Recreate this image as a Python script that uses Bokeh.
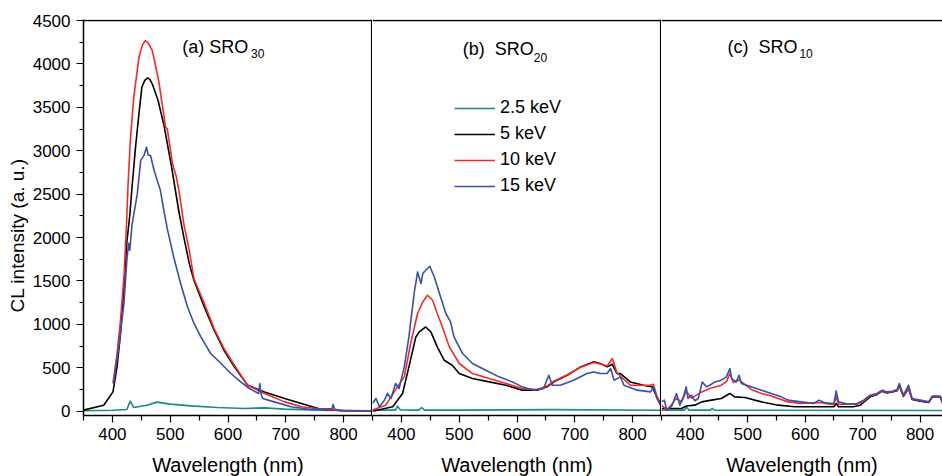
from bokeh.plotting import figure
from bokeh.layouts import row
from bokeh.models import Span, Label, Legend, LegendItem, FixedTicker, Range1d, Title
from bokeh.embed import file_html
from bokeh.resources import INLINE

FONT = "Liberation Sans"

series_names = ["2.5 keV", "5 keV", "10 keV", "15 keV"]
colors = ["#1a8c84", "#000000", "#f42a2a", "#3a50a8"]

x_ticks = [400, 500, 600, 700, 800]
x_minor = [350, 450, 550, 650, 750, 850]
y_ticks = [0, 500, 1000, 1500, 2000, 2500, 3000, 3500, 4000, 4500]
y_minor = [250, 750, 1250, 1750, 2250, 2750, 3250, 3750, 4250]

# ---------------- Panel (a) SRO30 ----------------
a_teal_x = [350, 400, 425, 431, 437, 460, 477, 500, 536, 582, 628, 663, 698, 756, 849]
a_teal_y = [4, 10, 20, 115, 42, 69, 104, 81, 61, 42, 31, 38, 23, 12, 4]

a_black_x = [350, 385, 401, 408, 414, 420, 425, 430, 434, 440, 446, 451, 456, 461, 465, 470, 479, 489, 502,
             515, 524, 533, 541, 559, 576, 593, 611, 634, 663, 698, 727, 762, 802, 850]
a_black_y = [12, 69, 222, 510, 894, 1431, 1950, 2250, 2582, 3042, 3430, 3733, 3810, 3840, 3820, 3752, 3580,
             3300, 2830, 2300, 1990, 1700, 1508, 1200, 932, 702, 510, 299, 222, 146, 89, 20, 4, 0]

a_red_x = [401, 408, 414, 420, 424, 427, 431, 437, 446, 452, 457, 462, 469, 480, 487, 492, 495, 504, 510,
           515, 524, 533, 541, 559, 576, 593, 611, 634, 657, 698, 727, 767, 802, 850]
a_red_y = [319, 664, 1047, 1546, 2083, 2600, 3119, 3618, 4078, 4220, 4270, 4240, 4155, 3810, 3500, 3272,
           3250, 2851, 2716, 2544, 2140, 1853, 1527, 1240, 952, 722, 529, 299, 222, 107, 50, 20, 4, 0]

a_blue_x = [402, 411, 420, 425, 428, 430, 434, 443, 449, 455, 459, 462, 466, 472, 483, 489, 495, 506, 518,
            530, 541, 553, 570, 588, 605, 622, 637, 653, 655, 657, 660, 680, 709, 744, 780, 782, 784, 796, 850]
a_blue_y = [319, 740, 1240, 1738, 1934, 1853, 2150, 2500, 2889, 2950, 3042, 2950, 2946, 2774, 2544, 2314,
            2100, 1776, 1470, 1200, 1013, 855, 664, 549, 434, 337, 261, 204, 319, 200, 146, 107, 50, 20, 30,
            77, 25, 4, 0]

# ---------------- Panel (b) SRO20 ----------------
b_teal_x = [350, 390, 393, 398, 430, 435, 440, 500, 660, 850]
b_teal_y = [12, 12, 58, 15, 12, 42, 12, 12, 18, 10]

b_black_x = [350, 385, 402, 413, 425, 431, 442, 451, 462, 474, 488, 500, 523, 552, 581, 609, 635, 652, 664,
             687, 710, 733, 744, 756, 765, 773, 779, 796, 819, 834, 842, 851]
b_black_y = [0, 50, 204, 510, 855, 913, 970, 913, 740, 587, 529, 433, 376, 337, 299, 242, 242, 280, 337,
             414, 510, 568, 549, 510, 540, 433, 433, 337, 299, 280, 165, 50]

b_red_x = [350, 373, 393, 405, 416, 428, 437, 445, 454, 462, 471, 483, 500, 523, 552, 581, 609, 635, 652,
           664, 687, 710, 733, 744, 756, 765, 773, 796, 831, 836, 842, 850]
b_red_y = [12, 69, 280, 395, 779, 1125, 1258, 1335, 1278, 1125, 970, 740, 549, 433, 376, 319, 261, 250,
           290, 345, 420, 505, 560, 545, 520, 607, 440, 299, 299, 310, 175, 50]

b_blue_x = [350, 356, 362, 370, 376, 382, 390, 396, 405, 413, 422, 428, 434, 437, 445, 449, 457, 465, 477,
            485, 491, 506, 523, 546, 569, 592, 609, 629, 646, 655, 661, 675, 698, 721, 733, 744, 756, 762,
            768, 779, 785, 808, 831, 836, 842, 850]
b_blue_y = [88, 146, 50, 120, 204, 146, 319, 261, 510, 855, 1355, 1604, 1470, 1585, 1643, 1669, 1546, 1373,
            1125, 1028, 855, 664, 549, 472, 395, 337, 280, 242, 261, 414, 299, 299, 357, 433, 452, 433, 433,
            491, 357, 395, 299, 242, 222, 280, 146, 50]

# ---------------- Panel (c) SRO10 ----------------
c_teal_x = [350, 390, 393, 398, 435, 438, 442, 839]
c_teal_y = [12, 12, 50, 12, 12, 31, 12, 8]

c_black_x = [350, 385, 393, 408, 420, 437, 454, 469, 477, 495, 524, 553, 582, 602, 650, 654, 658, 684, 696,
             713, 725, 734, 742, 752, 760, 764, 771, 780, 786, 800, 815, 821, 835, 839]
c_black_y = [31, 31, 60, 69, 107, 127, 146, 204, 165, 157, 107, 69, 50, 50, 50, 88, 50, 50, 69, 165, 190,
             230, 210, 220, 235, 290, 170, 260, 135, 115, 100, 160, 160, 95]

c_red_x = [350, 360, 376, 385, 393, 402, 420, 434, 454, 463, 469, 475, 485, 506, 524, 541, 570, 593, 624,
           650, 654, 658, 690, 702, 713, 725, 734, 742, 752, 760, 764, 771, 780, 786, 800, 815, 821, 835, 839]
c_red_y = [70, 10, 150, 107, 230, 150, 222, 260, 299, 340, 433, 330, 360, 250, 204, 175, 107, 90, 100, 75,
           170, 80, 80, 115, 175, 195, 235, 215, 225, 240, 300, 175, 270, 140, 120, 105, 165, 165, 100]

c_blue_x = [350, 355, 359, 368, 376, 382, 388, 393, 396, 402, 408, 414, 421, 428, 434, 443, 454, 463, 469,
            472, 480, 485, 489, 506, 524, 541, 556, 570, 593, 615, 624, 635, 650, 654, 658, 673, 690, 702,
            713, 725, 734, 742, 752, 760, 764, 771, 780, 786, 800, 815, 821, 835, 839]
c_blue_y = [107, 127, 12, 60, 204, 69, 165, 280, 146, 184, 120, 146, 337, 280, 299, 337, 357, 395, 491,
            376, 337, 414, 318, 280, 242, 204, 173, 127, 107, 88, 127, 95, 88, 234, 107, 81, 88, 127, 184,
            204, 242, 222, 230, 250, 318, 184, 299, 146, 127, 107, 173, 173, 107]

panels = [
    dict(title="(a) SRO", sub="30", frame_w=289, x_end=850, with_y=True,
         tx=521, ty=4190, sx=640, sy=4121,
         data=[(a_teal_x, a_teal_y), (a_black_x, a_black_y), (a_red_x, a_red_y), (a_blue_x, a_blue_y)]),
    dict(title="(b)\u00a0 SRO", sub="20", frame_w=289, x_end=850, with_y=False,
         tx=506, ty=4167, sx=629, sy=4075,
         data=[(b_teal_x, b_teal_y), (b_black_x, b_black_y), (b_red_x, b_red_y), (b_blue_x, b_blue_y)]),
    dict(title="(c)\u00a0 SRO", sub="10", frame_w=281, x_end=839, with_y=False,
         tx=465, ty=4190, sx=590, sy=4121,
         data=[(c_teal_x, c_teal_y), (c_black_x, c_black_y), (c_red_x, c_red_y), (c_blue_x, c_blue_y)]),
]

figs = []
for i, cfg in enumerate(panels):
    p = figure(frame_width=cfg["frame_w"], frame_height=396,
               x_range=Range1d(350, cfg["x_end"]), y_range=Range1d(-50, 4512),
               output_backend="svg", toolbar_location=None,
               y_axis_location="left" if cfg["with_y"] else None,
               min_border_left=83 if cfg["with_y"] else 0, min_border_right=0,
               min_border_top=19, min_border_bottom=61)
    p.outline_line_color = None
    p.xgrid.visible = False
    p.ygrid.visible = False

    xa = p.xaxis[0]
    xa.ticker = FixedTicker(ticks=x_ticks, minor_ticks=x_minor)
    xa.axis_label = "Wavelength (nm)"
    xa.axis_label_text_font = FONT
    xa.axis_label_text_font_size = "20px"
    xa.axis_label_text_font_style = "normal"
    xa.axis_label_text_color = "black"
    xa.axis_label_standoff = 11
    xa.major_label_text_font = FONT
    xa.major_label_text_font_size = "17px"
    xa.major_label_text_color = "black"
    xa.major_label_standoff = 5
    xa.axis_line_width = 1.5
    xa.major_tick_out = 7
    xa.major_tick_in = 0
    xa.minor_tick_out = 5
    xa.minor_tick_in = 0
    xa.major_tick_line_width = 1.2
    xa.minor_tick_line_width = 1.2

    if cfg["with_y"]:
        ya = p.yaxis[0]
        ya.ticker = FixedTicker(ticks=y_ticks, minor_ticks=y_minor)
        ya.major_label_text_font = FONT
        ya.major_label_text_font_size = "17px"
        ya.major_label_text_color = "black"
        ya.major_label_standoff = 6
        ya.axis_line_width = 1.5
        ya.major_tick_out = 7
        ya.major_tick_in = 0
        ya.minor_tick_out = 4
        ya.minor_tick_in = 0
        ya.major_tick_line_width = 1.2
        ya.minor_tick_line_width = 1.2
        p.add_layout(Title(text="CL intensity (a. u.)", align="left", offset=103, standoff=4,
                           text_font=FONT, text_font_size="19px", text_font_style="normal",
                           text_color="black"), "left")

    # frame borders: top line and right-hand divider
    p.add_layout(Span(location=4500, dimension="width", line_color="black", line_width=1.5))
    if i < 2:
        p.add_layout(Span(location=cfg["x_end"] - 1.4, dimension="height", line_color="black", line_width=1.5))

    renderers = []
    for (xs, ys), col in zip(cfg["data"], colors):
        r = p.line(xs, ys, line_color=col, line_width=1.6, line_join="round")
        renderers.append(r)

    p.add_layout(Label(x=cfg["tx"], y=cfg["ty"], text=cfg["title"], text_baseline="alphabetic",
                       text_font=FONT, text_font_size="18px", text_color="black"))
    p.add_layout(Label(x=cfg["sx"], y=cfg["sy"], text=cfg["sub"], text_baseline="alphabetic",
                       text_font=FONT, text_font_size="12px", text_color="black"))

    if i == 1:
        items = [LegendItem(label=n, renderers=[r]) for n, r in zip(series_names, renderers)]
        leg = Legend(items=items, location=(82, 219), padding=0, margin=0, spacing=5,
                     glyph_width=41, glyph_height=20, label_height=20, label_standoff=5,
                     label_text_font=FONT, label_text_font_size="18px", label_text_color="black",
                     border_line_alpha=0, background_fill_alpha=0)
        p.add_layout(leg)

    figs.append(p)

layout = row(*figs, spacing=0)
open("out.html", "w").write(file_html(layout, INLINE))
